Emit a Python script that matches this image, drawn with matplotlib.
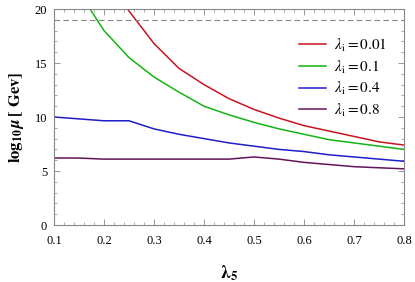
import matplotlib
matplotlib.use("Agg")
import matplotlib.pyplot as plt
from matplotlib.ticker import MultipleLocator, FormatStrFormatter

plt.rcParams['font.family'] = ['Liberation Serif', 'DejaVu Serif']
plt.rcParams['mathtext.fontset'] = 'stix'

x_red = [0.247, 0.3, 0.35, 0.4, 0.45, 0.5, 0.55, 0.6, 0.65, 0.7, 0.75, 0.8]
y_red = [20.0, 16.8, 14.5, 13.0, 11.7, 10.7, 9.9, 9.2, 8.7, 8.2, 7.7, 7.4]
x_green = [0.172, 0.2, 0.25, 0.3, 0.35, 0.4, 0.45, 0.5, 0.55, 0.6, 0.65, 0.7, 0.75, 0.8]
y_green = [20.0, 18.0, 15.5, 13.7, 12.3, 11.0, 10.2, 9.5, 8.9, 8.4, 7.9, 7.6, 7.3, 7.0]
x_blue = [0.1, 0.2, 0.25, 0.3, 0.35, 0.4, 0.45, 0.5, 0.55, 0.6, 0.65, 0.7, 0.75, 0.8]
y_blue = [10.0, 9.65, 9.65, 8.9, 8.4, 8.0, 7.6, 7.3, 7.0, 6.8, 6.5, 6.3, 6.1, 5.9]
x_purple = [0.1, 0.15, 0.2, 0.25, 0.3, 0.35, 0.4, 0.45, 0.5, 0.55, 0.6, 0.65, 0.7, 0.75, 0.8]
y_purple = [6.2, 6.2, 6.1, 6.1, 6.1, 6.1, 6.1, 6.1, 6.3, 6.1, 5.8, 5.6, 5.4, 5.3, 5.2]
labels = [r'$\lambda_{\rm i}=0.01$', r'$\lambda_{\rm i}=0.1$',
          r'$\lambda_{\rm i}=0.4$', r'$\lambda_{\rm i}=0.8$']
colors = ['#c8141e', '#14b414', '#1e1ec8', '#64145a']
cutoff = 19

fig = plt.figure(figsize=(4.15, 2.82), dpi=100)
ax = fig.add_axes([54/415, 1-225/282, 350/415, 216/282])

for xs, ys, c, l in zip([x_red, x_green, x_blue, x_purple],
                        [y_red, y_green, y_blue, y_purple], colors, labels):
    ax.plot(xs, ys, color=c, lw=1.1, label=l)
ax.axhline(cutoff, color='#888888', lw=0.8, ls=(0, (5, 3)))

ax.set_xlim(0.1, 0.8)
ax.set_ylim(0, 20)
ax.xaxis.set_major_locator(MultipleLocator(0.1))
ax.xaxis.set_minor_locator(MultipleLocator(0.02))
ax.xaxis.set_major_formatter(FormatStrFormatter('%.1f'))
ax.yaxis.set_major_locator(MultipleLocator(5))
ax.yaxis.set_minor_locator(MultipleLocator(1))
ax.tick_params(which='both', direction='in', top=True, right=True, color='#888888',
               labelsize=9)
ax.tick_params(which='major', length=4, width=0.6)
ax.tick_params(which='minor', length=2, width=0.5)
ax.tick_params(axis='x', which='major', pad=7)
ax.tick_params(axis='y', which='major', pad=5)
for s in ax.spines.values():
    s.set_color('#888888')
    s.set_linewidth(0.8)

ax.set_xlabel(r'$\boldsymbol{\lambda}_{\mathbf{5}}$', fontsize=13, labelpad=12)
ax.set_ylabel(r'$\mathbf{log}_{\mathbf{10}}\,\boldsymbol{\mu}\,\mathbf{[\ Gev]}$', fontsize=12, labelpad=6)

leg = ax.legend(loc='upper right', bbox_to_anchor=(0.99, 0.935), frameon=False,
                fontsize=11, handlelength=1.8, labelspacing=0.3, handletextpad=0.5)

fig.savefig('out.png', dpi=100)
